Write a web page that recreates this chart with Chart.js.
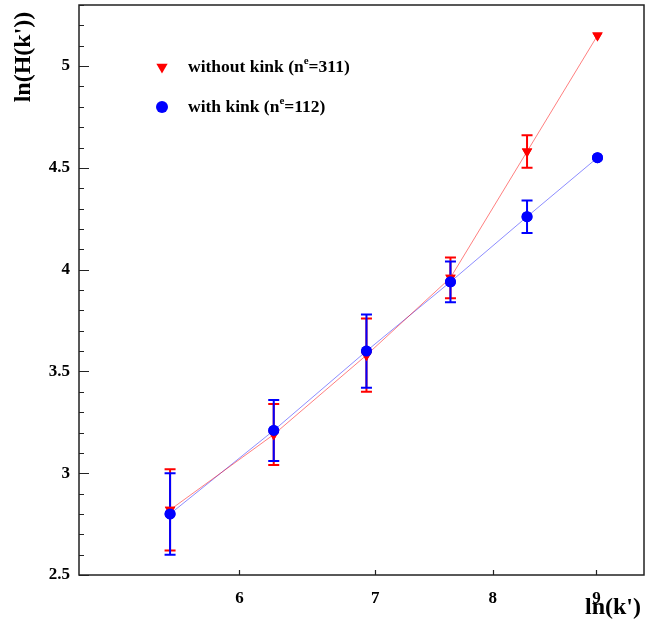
<!DOCTYPE html>
<html>
<head>
<meta charset="utf-8">
<script src="https://cdn.jsdelivr.net/npm/chart.js@4.4.1/dist/chart.umd.min.js"></script>
<style>
  html, body { margin: 0; padding: 0; background: #fff; }
  #wrap { width: 646px; height: 626px; }
</style>
</head>
<body>
<div id="wrap"><canvas id="c" width="646" height="626"></canvas></div>
<script>
// ln(k') for k' = 256 ... 8192
const lnK = [5.545, 6.238, 6.931, 7.625, 8.318, 9.011];

// ln(H(k')) without kink (n^e = 311)
const withoutKink    = [2.82, 3.19, 3.58, 3.96, 4.58, 5.15];
const withoutKinkErr = [0.20, 0.15, 0.18, 0.10, 0.08, 0.00];

// ln(H(k')) with kink (n^e = 112)
const withKink    = [2.80, 3.21, 3.60, 3.94, 4.26, 4.55];
const withKinkErr = [0.20, 0.15, 0.18, 0.10, 0.08, 0.00];

// axis tick labels
const xTickValues = [6, 7, 8, 9];
const yTickValues = [2.5, 3, 3.5, 4, 4.5, 5];

// legend entries: text before superscript, superscript, text after
const seriesNames = [
  ['without kink (n', 'e', '=311)'],
  ['with kink (n', 'e', '=112)']
];

const RED = '#ff0000';
const BLUE = '#0000ff';
const SERIF = '"Liberation Serif", "Times New Roman", serif';

function toPoints(xs, ys) { return xs.map((x, i) => ({ x: x, y: ys[i] })); }

// vertical error bars with caps, markers redrawn on top
const errorBars = {
  id: 'errorBars',
  afterDatasetsDraw(chart) {
    const ctx = chart.ctx;
    const xs = chart.scales.x, ys = chart.scales.y;
    const sets = [
      { vals: withoutKink, errs: withoutKinkErr, color: RED },
      { vals: withKink, errs: withKinkErr, color: BLUE }
    ];
    ctx.save();
    ctx.lineWidth = 2;
    sets.forEach(s => {
      ctx.strokeStyle = s.color;
      s.vals.forEach((v, i) => {
        const e = s.errs[i];
        if (!e) return;
        const px = xs.getPixelForValue(lnK[i]);
        const top = ys.getPixelForValue(v + e);
        const bot = ys.getPixelForValue(v - e);
        ctx.beginPath();
        ctx.moveTo(px, top); ctx.lineTo(px, bot);
        ctx.moveTo(px - 5.5, top); ctx.lineTo(px + 5.5, top);
        ctx.moveTo(px - 5.5, bot); ctx.lineTo(px + 5.5, bot);
        ctx.stroke();
      });
    });
    ctx.restore();
    chart.getSortedVisibleDatasetMetas().forEach(meta => {
      meta.data.forEach(el => el.draw(ctx, chart.chartArea));
    });
  }
};

// frame, inward ticks, axis titles and legend
const decorations = {
  id: 'decorations',
  afterDraw(chart) {
    const ctx = chart.ctx;
    const a = chart.chartArea;
    const xs = chart.scales.x, ys = chart.scales.y;
    ctx.save();

    // frame
    ctx.strokeStyle = '#222';
    ctx.lineWidth = 1.5;
    ctx.strokeRect(a.left, a.top, a.right - a.left, a.bottom - a.top);

    // y ticks: major every 0.5, minor every 0.1
    ctx.lineWidth = 1.2;
    ctx.beginPath();
    for (let k = Math.round(ys.min * 10); k <= Math.round(ys.max * 10); k++) {
      const py = Math.round(ys.getPixelForValue(k / 10)) + 0.5;
      const len = (k % 5 === 0) ? 10 : 5;
      ctx.moveTo(a.left, py); ctx.lineTo(a.left + len, py);
    }
    // x ticks
    xTickValues.forEach(v => {
      const px = Math.round(xs.getPixelForValue(v)) + 0.5;
      ctx.moveTo(px, a.bottom); ctx.lineTo(px, a.bottom - 5);
    });
    ctx.stroke();

    // axis titles
    ctx.fillStyle = '#000';
    ctx.font = 'bold 24px ' + SERIF;
    ctx.textBaseline = 'middle';
    ctx.textAlign = 'right';
    ctx.fillText("ln(k')", 641, 608);
    ctx.translate(24, 57);
    ctx.rotate(-Math.PI / 2);
    ctx.textAlign = 'center';
    ctx.fillText("ln(H(k'))", 0, 0);
    ctx.setTransform(1, 0, 0, 1, 0, 0);

    // legend
    const rows = [
      { y: 67, color: RED, style: 'triangle' },
      { y: 107, color: BLUE, style: 'circle' }
    ];
    rows.forEach((r, i) => {
      ctx.fillStyle = r.color;
      ctx.beginPath();
      if (r.style === 'circle') {
        ctx.arc(162, r.y, 6, 0, Math.PI * 2);
      } else {
        const rad = 6.5;
        for (let j = 0; j < 3; j++) {
          const ang = Math.PI + j * 2 * Math.PI / 3;
          const px = 162 + Math.sin(ang) * rad;
          const py = r.y - Math.cos(ang) * rad;
          if (j === 0) ctx.moveTo(px, py); else ctx.lineTo(px, py);
        }
        ctx.closePath();
      }
      ctx.fill();

      const parts = seriesNames[i];
      ctx.fillStyle = '#000';
      ctx.textAlign = 'left';
      ctx.textBaseline = 'middle';
      let x = 188;
      ctx.font = 'bold 17.5px ' + SERIF;
      ctx.fillText(parts[0], x, r.y);
      x += ctx.measureText(parts[0]).width;
      ctx.font = 'bold 11px ' + SERIF;
      ctx.fillText(parts[1], x, r.y - 6);
      x += ctx.measureText(parts[1]).width;
      ctx.font = 'bold 17.5px ' + SERIF;
      ctx.fillText(parts[2], x, r.y);
    });
    ctx.restore();
  }
};

function noPad(s) {
  s.paddingTop = 0; s.paddingBottom = 0; s.paddingLeft = 0; s.paddingRight = 0;
}

new Chart(document.getElementById('c'), {
  type: 'scatter',
  data: {
    datasets: [
      {
        label: seriesNames[0].join(''),
        data: toPoints(lnK, withoutKink),
        showLine: true,
        borderColor: 'rgba(255,0,0,0.5)',
        borderWidth: 1,
        backgroundColor: RED,
        pointBackgroundColor: RED,
        pointBorderWidth: 0,
        pointStyle: 'triangle',
        pointRotation: 180,
        pointRadius: 6
      },
      {
        label: seriesNames[1].join(''),
        data: toPoints(lnK, withKink),
        showLine: true,
        borderColor: 'rgba(0,0,255,0.45)',
        borderWidth: 1,
        backgroundColor: BLUE,
        pointBackgroundColor: BLUE,
        pointBorderWidth: 0,
        pointStyle: 'circle',
        pointRadius: 5.5
      }
    ]
  },
  options: {
    responsive: false,
    animation: false,
    devicePixelRatio: 1,
    layout: { autoPadding: false, padding: { left: 0, right: 2, top: 5, bottom: 0 } },
    plugins: { legend: { display: false }, tooltip: { enabled: false } },
    scales: {
      x: {
        type: 'logarithmic',
        min: 5,
        max: 9.5,
        grid: { display: false, drawTicks: false },
        border: { display: false },
        afterBuildTicks: s => { s.ticks = xTickValues.map(v => ({ value: v })); },
        afterFit: s => { s.height = 51; noPad(s); },
        ticks: {
          autoSkip: false,
          maxRotation: 0,
          padding: 13,
          color: '#000',
          font: { family: SERIF, weight: 'bold', size: 17 },
          callback: v => String(v)
        }
      },
      y: {
        type: 'linear',
        min: 2.5,
        max: 5.3,
        grid: { display: false, drawTicks: false },
        border: { display: false },
        afterBuildTicks: s => { s.ticks = yTickValues.map(v => ({ value: v })); },
        afterFit: s => { s.width = 79; noPad(s); },
        ticks: {
          autoSkip: false,
          padding: 9,
          color: '#000',
          font: { family: SERIF, weight: 'bold', size: 17 },
          callback: v => String(v)
        }
      }
    }
  },
  plugins: [errorBars, decorations]
});
</script>
</body>
</html>
